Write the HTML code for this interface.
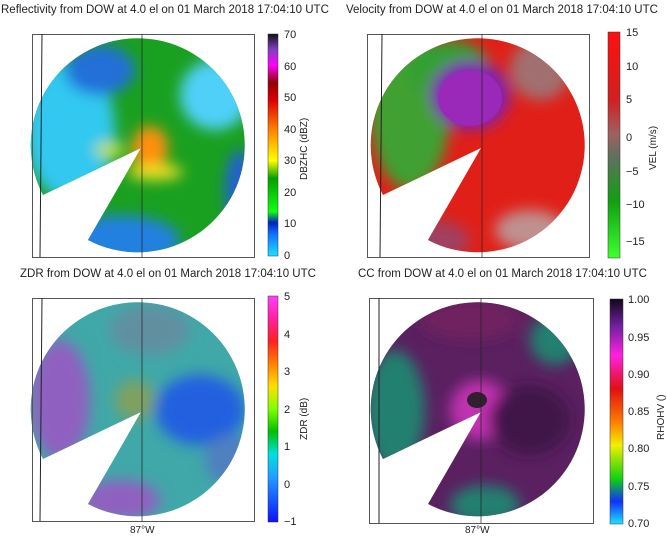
<!DOCTYPE html><html><head><style>body{margin:0;background:#fff}svg{display:block}text{font-family:"Liberation Sans",sans-serif;fill:#222}</style></head><body>
<svg width="667" height="536" viewBox="0 0 667 536">
<defs>
<filter id="bl" x="-20%" y="-20%" width="140%" height="140%"><feGaussianBlur stdDeviation="7"/></filter>
<linearGradient id="cb1" x1="0" y1="1" x2="0" y2="0"><stop offset="0" stop-color="#19e0ff"/><stop offset=".1" stop-color="#1070ff"/><stop offset=".15" stop-color="#0020c0"/><stop offset=".2" stop-color="#10ff10"/><stop offset=".35" stop-color="#00a000"/><stop offset=".43" stop-color="#ffff00"/><stop offset=".57" stop-color="#ff8000"/><stop offset=".7" stop-color="#e00000"/><stop offset=".78" stop-color="#900000"/><stop offset=".86" stop-color="#ff00ff"/><stop offset=".93" stop-color="#8040c0"/><stop offset="1" stop-color="#101020"/></linearGradient>
<linearGradient id="cb2" x1="0" y1="1" x2="0" y2="0"><stop offset="0" stop-color="#40ff30"/><stop offset=".25" stop-color="#10a010"/><stop offset=".45" stop-color="#607060"/><stop offset=".55" stop-color="#a06060"/><stop offset=".7" stop-color="#d02020"/><stop offset="1" stop-color="#ff1010"/></linearGradient>
<linearGradient id="cb3" x1="0" y1="1" x2="0" y2="0"><stop offset="0" stop-color="#1010ff"/><stop offset=".2" stop-color="#20a0ff"/><stop offset=".3" stop-color="#00e0e0"/><stop offset=".4" stop-color="#00c000"/><stop offset=".5" stop-color="#80ff00"/><stop offset=".6" stop-color="#ffe000"/><stop offset=".7" stop-color="#ff8000"/><stop offset=".8" stop-color="#ff2020"/><stop offset=".9" stop-color="#ff20a0"/><stop offset="1" stop-color="#ff40ff"/></linearGradient>
<linearGradient id="cb4" x1="0" y1="1" x2="0" y2="0"><stop offset="0" stop-color="#20e0ff"/><stop offset=".1" stop-color="#1030ff"/><stop offset=".2" stop-color="#10d010"/><stop offset=".35" stop-color="#f0f000"/><stop offset=".45" stop-color="#ff8000"/><stop offset=".6" stop-color="#e01010"/><stop offset=".75" stop-color="#ff20e0"/><stop offset=".88" stop-color="#7020a0"/><stop offset="1" stop-color="#100818"/></linearGradient>
<clipPath id="c1"><path d="M141,148 L43,195 A107,107 0 1 1 88,240 Z"/></clipPath>
<clipPath id="c2"><path d="M481,148 L383,195 A107,107 0 1 1 428,240 Z"/></clipPath>
<clipPath id="c3"><path d="M141,412 L43,459 A107,107 0 1 1 88,504 Z"/></clipPath>
<clipPath id="c4"><path d="M481,412 L383,459 A107,107 0 1 1 428,504 Z"/></clipPath>
</defs>
<!-- titles -->
<text x="1" y="13" font-size="11.5">Reflectivity from DOW at 4.0 el on 01 March 2018 17:04:10 UTC</text>
<text x="346" y="13" font-size="11.5">Velocity from DOW at 4.0 el on 01 March 2018 17:04:10 UTC</text>
<text x="20" y="277" font-size="11.5">ZDR from DOW at 4.0 el on 01 March 2018 17:04:10 UTC</text>
<text x="358" y="277" font-size="11.5">CC from DOW at 4.0 el on 01 March 2018 17:04:10 UTC</text>

<!-- Panel 1 -->
<g clip-path="url(#c1)"><rect x="30" y="30" width="230" height="230" fill="#1aa020"/>
<g filter="url(#bl)"><ellipse cx="70" cy="130" rx="45" ry="70" fill="#30c8f0"/><ellipse cx="215" cy="95" rx="35" ry="35" fill="#50d0f8"/><ellipse cx="120" cy="240" rx="60" ry="25" fill="#2080e0"/><ellipse cx="100" cy="70" rx="35" ry="25" fill="#2070d8"/><ellipse cx="240" cy="190" rx="15" ry="40" fill="#2060d0"/><ellipse cx="150" cy="148" rx="18" ry="22" fill="#ff9010"/><ellipse cx="155" cy="172" rx="28" ry="8" fill="#f0e020"/><ellipse cx="110" cy="150" rx="15" ry="8" fill="#c0e030"/></g></g>
<rect x="32.5" y="34.5" width="222" height="223" fill="none" stroke="#555"/>
<line x1="42" y1="34" x2="40" y2="257" stroke="#222"/><line x1="142" y1="34" x2="142" y2="257" stroke="#222" stroke-width=".7"/>
<rect x="268" y="34" width="10" height="222" fill="url(#cb1)" stroke="#333" stroke-width=".5"/>
<g font-size="11"><text x="284" y="38">70</text><text x="284" y="70">60</text><text x="284" y="101">50</text><text x="284" y="133">40</text><text x="284" y="164">30</text><text x="284" y="196">20</text><text x="284" y="227">10</text><text x="284" y="259">0</text></g>
<text transform="translate(307,180) rotate(-90)" font-size="10">DBZHC (dBZ)</text>

<!-- Panel 2 -->
<g clip-path="url(#c2)"><rect x="370" y="30" width="230" height="230" fill="#e02018"/>
<g filter="url(#bl)"><ellipse cx="410" cy="110" rx="40" ry="80" fill="#40a030"/><ellipse cx="450" cy="70" rx="40" ry="30" fill="#30a030"/><ellipse cx="470" cy="95" rx="40" ry="35" fill="#8020b0"/><ellipse cx="540" cy="70" rx="30" ry="30" fill="#a07070"/><ellipse cx="430" cy="240" rx="40" ry="20" fill="#a04060"/><ellipse cx="530" cy="230" rx="35" ry="20" fill="#c09090"/></g>
<ellipse cx="470" cy="98" rx="32" ry="28" fill="#9a28b8"/></g>
<rect x="367.5" y="34.5" width="222" height="223" fill="none" stroke="#555"/>
<line x1="382" y1="34" x2="380" y2="257" stroke="#222"/><line x1="482" y1="34" x2="482" y2="257" stroke="#222" stroke-width=".7"/>
<rect x="608" y="32" width="12" height="226" fill="url(#cb2)" stroke="#333" stroke-width=".5"/>
<g font-size="11"><text x="626" y="36">15</text><text x="626" y="70">10</text><text x="626" y="103">5</text><text x="626" y="141">0</text><text x="626" y="175">−5</text><text x="626" y="208">−10</text><text x="626" y="245">−15</text></g>
<text transform="translate(656,170) rotate(-90)" font-size="10">VEL (m/s)</text>

<!-- Panel 3 -->
<g clip-path="url(#c3)"><rect x="30" y="294" width="230" height="230" fill="#40a8a8"/>
<g filter="url(#bl)"><ellipse cx="60" cy="400" rx="30" ry="60" fill="#9060c0"/><ellipse cx="200" cy="410" rx="45" ry="35" fill="#2060e0"/><ellipse cx="150" cy="330" rx="40" ry="25" fill="#6090a0"/><ellipse cx="135" cy="400" rx="20" ry="20" fill="#80a060"/><ellipse cx="120" cy="500" rx="40" ry="20" fill="#9060c0"/><ellipse cx="230" cy="460" rx="25" ry="25" fill="#5080c0"/></g></g>
<rect x="32.5" y="298.5" width="222" height="223" fill="none" stroke="#555"/>
<line x1="42" y1="298" x2="40" y2="521" stroke="#222"/><line x1="142" y1="298" x2="142" y2="521" stroke="#222" stroke-width=".7"/>
<text x="130" y="533" font-size="10">87°W</text>
<rect x="268" y="296" width="10" height="226" fill="url(#cb3)" stroke="#333" stroke-width=".5"/>
<g font-size="11"><text x="284" y="300">5</text><text x="284" y="338">4</text><text x="284" y="375">3</text><text x="284" y="413">2</text><text x="284" y="450">1</text><text x="284" y="488">0</text><text x="284" y="525">−1</text></g>
<text transform="translate(307,440) rotate(-90)" font-size="10">ZDR (dB)</text>

<!-- Panel 4 -->
<g clip-path="url(#c4)"><rect x="370" y="294" width="230" height="230" fill="#5a2060"/>
<g filter="url(#bl)"><ellipse cx="395" cy="410" rx="30" ry="60" fill="#208070"/><ellipse cx="555" cy="340" rx="25" ry="25" fill="#208070"/><ellipse cx="485" cy="505" rx="35" ry="20" fill="#208070"/><ellipse cx="480" cy="410" rx="30" ry="30" fill="#c030b0"/><ellipse cx="530" cy="420" rx="40" ry="35" fill="#401848"/><ellipse cx="470" cy="320" rx="50" ry="20" fill="#702060"/></g>
<ellipse cx="477" cy="400" rx="10" ry="8" fill="#302030"/></g>
<rect x="369.5" y="298.5" width="224" height="225" fill="none" stroke="#555"/>
<line x1="379" y1="298" x2="379" y2="523" stroke="#222"/><line x1="481" y1="298" x2="481" y2="523" stroke="#222" stroke-width=".7"/>
<text x="465" y="533" font-size="10">87°W</text>
<rect x="610" y="299" width="13" height="225" fill="url(#cb4)" stroke="#333" stroke-width=".5"/>
<g font-size="11"><text x="628" y="303">1.00</text><text x="628" y="341">0.95</text><text x="628" y="378">0.90</text><text x="628" y="415">0.85</text><text x="628" y="452">0.80</text><text x="628" y="490">0.75</text><text x="628" y="527">0.70</text></g>
<text transform="translate(664,440) rotate(-90)" font-size="10">RHOHV ()</text>
</svg></body></html>
